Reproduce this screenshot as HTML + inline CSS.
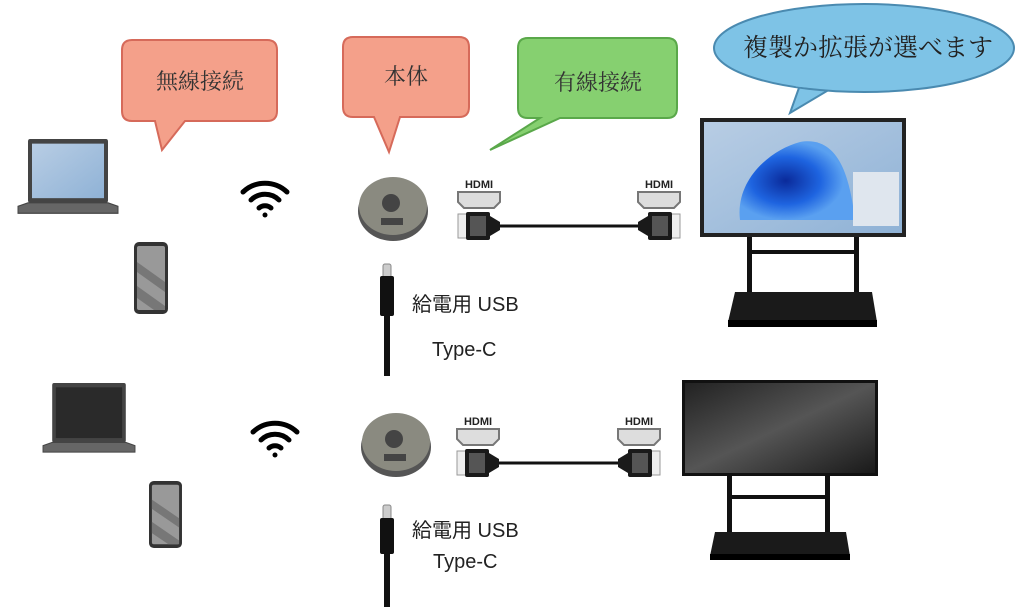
<!DOCTYPE html>
<html><head><meta charset="utf-8"><style>
body{margin:0;background:#fff}
svg{display:block}
text{font-family:"Liberation Sans","Noto Sans CJK JP",sans-serif}
.serif{font-family:"Liberation Serif","Noto Serif CJK SC",serif}
</style></head><body>
<svg width="1024" height="607" viewBox="0 0 1024 607" xmlns="http://www.w3.org/2000/svg">
<defs>
<linearGradient id="scr" x1="0" y1="0" x2="1" y2="1"><stop offset="0" stop-color="#b8cde4"/><stop offset="1" stop-color="#8fb2d6"/></linearGradient>
<radialGradient id="wave" cx="0.4" cy="0.5" r="0.5"><stop offset="0" stop-color="#0a2a9a"/><stop offset="0.6" stop-color="#1e64e0"/><stop offset="1" stop-color="#5aa0f0"/></radialGradient>
<linearGradient id="blk" x1="0" y1="0" x2="1" y2="1"><stop offset="0" stop-color="#222"/><stop offset="0.5" stop-color="#555"/><stop offset="1" stop-color="#1a1a1a"/></linearGradient>
<g id="laptop">
<rect x="10" y="0" width="80" height="55" rx="2" fill="#444"/>
<rect x="14" y="4" width="72" height="47" fill="url(#scr)"/>
<path d="M0 58 L10 55 L90 55 L100 58 L100 64 L0 64 Z" fill="#666" stroke="#444"/>
</g>
<g id="laptop2">
<rect x="10" y="0" width="80" height="55" rx="2" fill="#444"/>
<rect x="14" y="4" width="72" height="47" fill="#2a2a2a"/>
<path d="M0 58 L10 55 L90 55 L100 58 L100 64 L0 64 Z" fill="#666" stroke="#444"/>
</g>
<g id="phone">
<rect x="0" y="0" width="34" height="72" rx="5" fill="#333"/>
<rect x="3" y="4" width="28" height="64" rx="2" fill="#999"/>
<path d="M3 20 L31 40 L31 50 L3 30Z M3 44 L31 64 L31 68 L20 68 L3 56Z" fill="#777"/>
</g>
<g id="wifi" fill="none" stroke="#000" stroke-width="5" stroke-linecap="round">
<path d="M-22 -6 A32 32 0 0 1 22 -6"/>
<path d="M-14 2 A20 20 0 0 1 14 2"/>
<path d="M-6 10 A9 9 0 0 1 6 10"/>
<circle cx="0" cy="17" r="2.5" fill="#000" stroke="none"/>
</g>
<g id="puck">
<ellipse cx="0" cy="5" rx="35" ry="30" fill="#555"/>
<ellipse cx="0" cy="0" rx="34" ry="29" fill="#8a8a80"/>
<circle cx="-2" cy="-3" r="9" fill="#444"/>
<rect x="-12" y="12" width="22" height="7" fill="#444"/>
</g>
<g id="hdmi">
<path d="M0 16 L42 16 L42 26 L36 32 L6 32 L0 26Z" fill="#ddd" stroke="#777" stroke-width="2"/>
<rect x="0" y="38" width="10" height="24" fill="#eee" stroke="#999"/>
<rect x="8" y="36" width="24" height="28" rx="2" fill="#1a1a1a"/>
<rect x="12" y="40" width="16" height="20" fill="#555"/>
<path d="M32 40 L42 46 L42 54 L32 60Z" fill="#1a1a1a"/>
</g>
</defs>

<!-- bubbles -->
<path d="M132 40 H267 Q277 40 277 50 V111 Q277 121 267 121 H185 L162 150 L155 121 H132 Q122 121 122 111 V50 Q122 40 132 40Z" fill="#f4a08a" stroke="#d66a5a" stroke-width="2"/>
<text x="200" y="89" font-size="22" text-anchor="middle" class="serif" fill="#333">無線接続</text>
<path d="M353 37 H459 Q469 37 469 47 V107 Q469 117 459 117 H400 L389 152 L374 117 H353 Q343 117 343 107 V47 Q343 37 353 37Z" fill="#f4a08a" stroke="#d66a5a" stroke-width="2"/>
<text x="406" y="84" font-size="22" text-anchor="middle" class="serif" fill="#333">本体</text>
<path d="M528 38 H667 Q677 38 677 48 V108 Q677 118 667 118 H560 L490 150 L540 118 H528 Q518 118 518 108 V48 Q518 38 528 38Z" fill="#86d070" stroke="#5aa84a" stroke-width="2"/>
<text x="598" y="90" font-size="22" text-anchor="middle" class="serif" fill="#333">有線接続</text>
<path d="M800 85 L790 113 L832 88Z" fill="#7ec3e6" stroke="#4a8ab0" stroke-width="2"/>
<ellipse cx="864" cy="48" rx="150" ry="44" fill="#7ec3e6" stroke="#4a8ab0" stroke-width="2"/>
<path d="M796 84 L830 87" stroke="#7ec3e6" stroke-width="5"/>
<text x="868" y="56" font-size="25" text-anchor="middle" class="serif" fill="#222">複製か拡張が選べます</text>

<!-- row 1 -->
<use href="#laptop" transform="translate(18,139) scale(1,1.16)"/>
<use href="#phone" transform="translate(134,242)"/>
<use href="#wifi" transform="translate(265,198)"/>
<use href="#puck" transform="translate(393,206)"/>
<use href="#hdmi" transform="translate(458,176)"/>
<text x="479" y="188" font-size="11" font-weight="bold" text-anchor="middle" fill="#222">HDMI</text>
<line x1="500" y1="226" x2="640" y2="226" stroke="#111" stroke-width="3"/>
<use href="#hdmi" transform="translate(680,176) scale(-1,1)"/>
<text x="659" y="188" font-size="11" font-weight="bold" text-anchor="middle" fill="#222">HDMI</text>
<rect x="383" y="264" width="8" height="24" rx="2" fill="#ccc" stroke="#888"/>
<rect x="380" y="276" width="14" height="40" rx="2" fill="#111"/>
<rect x="384" y="314" width="6" height="62" fill="#111"/>
<text x="412" y="311" font-size="20" fill="#222">給電用 USB</text>
<text x="432" y="356" font-size="20" fill="#222">Type-C</text>
<!-- display 1 -->
<rect x="747" y="236" width="5" height="60" fill="#111"/><rect x="854" y="236" width="5" height="60" fill="#111"/>
<rect x="747" y="250" width="112" height="4" fill="#111"/>
<path d="M735 292 H872 L877 322 H728Z" fill="#1a1a1a"/>
<rect x="728" y="320" width="149" height="7" fill="#000"/>
<rect x="700" y="118" width="206" height="119" fill="#222"/>
<rect x="704" y="122" width="198" height="111" fill="url(#scr)"/>
<path d="M740 220 C735 180 770 150 800 142 C840 135 850 180 855 220Z" fill="url(#wave)"/>
<rect x="853" y="172" width="46" height="54" fill="#dfe6ee"/>

<!-- row 2 -->
<use href="#laptop2" transform="translate(43,383) scale(0.92,1.08)"/>
<use href="#phone" transform="translate(149,481) scale(0.97,0.93)"/>
<use href="#wifi" transform="translate(275,438)"/>
<use href="#puck" transform="translate(396,442)"/>
<use href="#hdmi" transform="translate(457,413)"/>
<text x="478" y="425" font-size="11" font-weight="bold" text-anchor="middle" fill="#222">HDMI</text>
<line x1="499" y1="463" x2="625" y2="463" stroke="#111" stroke-width="3"/>
<use href="#hdmi" transform="translate(660,413) scale(-1,1)"/>
<text x="639" y="425" font-size="11" font-weight="bold" text-anchor="middle" fill="#222">HDMI</text>
<rect x="383" y="505" width="8" height="20" rx="2" fill="#ccc" stroke="#888"/>
<rect x="380" y="518" width="14" height="36" rx="2" fill="#111"/>
<rect x="384" y="552" width="6" height="55" fill="#111"/>
<text x="412" y="537" font-size="20" fill="#222">給電用 USB</text>
<text x="433" y="568" font-size="20" fill="#222">Type-C</text>
<rect x="727" y="474" width="5" height="62" fill="#111"/><rect x="825" y="474" width="5" height="62" fill="#111"/>
<rect x="727" y="495" width="103" height="4" fill="#111"/>
<path d="M715 532 H846 L850 556 H710Z" fill="#1a1a1a"/>
<rect x="710" y="554" width="140" height="6" fill="#000"/>
<rect x="682" y="380" width="196" height="96" fill="#111"/>
<rect x="685" y="383" width="190" height="90" fill="url(#blk)"/>
</svg>
</body></html>
